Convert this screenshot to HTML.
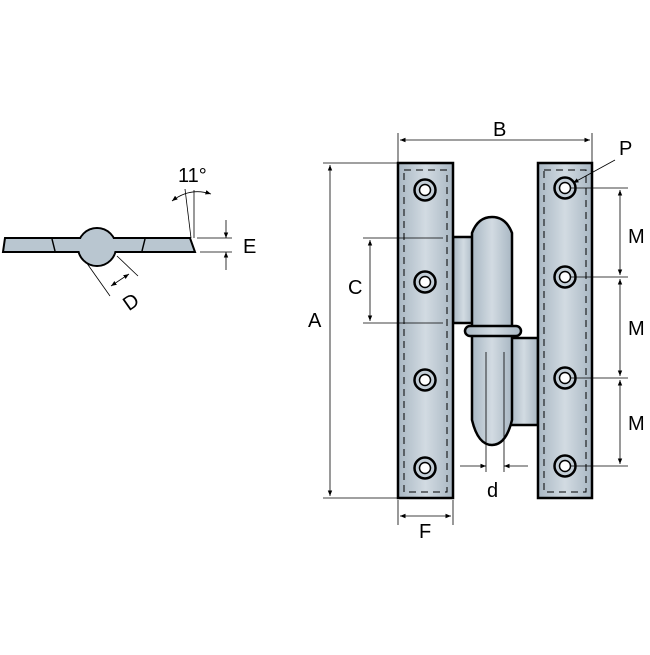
<!DOCTYPE html>
<html><head><style>body{margin:0;background:#fff}</style></head><body>
<svg width="650" height="650" viewBox="0 0 650 650" xmlns="http://www.w3.org/2000/svg" font-family="Liberation Sans, sans-serif">
<defs>
<linearGradient id="g" x1="0" x2="1" y1="0" y2="0">
<stop offset="0" stop-color="#a9b7c3"/><stop offset="0.5" stop-color="#d2dbe2"/><stop offset="1" stop-color="#a9b7c3"/>
</linearGradient>
<marker id="a" viewBox="0 0 10 10" refX="10" refY="5" markerWidth="7" markerHeight="7" orient="auto-start-reverse"><path d="M0,1 L10,5 L0,9 z" fill="#000"/></marker>
</defs>
<!-- side view -->
<g stroke="#000" stroke-width="2" fill="#b9c6d0">
<path d="M5,238 L190,238 L195,252 L3,252 Z"/>
<circle cx="97" cy="247" r="19"/>
</g>
<rect x="62" y="239" width="66" height="12" fill="#b9c6d0"/>
<circle cx="97" cy="247" r="18" fill="#b9c6d0"/>
<g stroke="#000" stroke-width="1.5" fill="none">
<line x1="52" y1="239" x2="55" y2="251"/><line x1="145" y1="239" x2="142" y2="251"/>
<path d="M5,238 L79,238"/><path d="M115,238 L190,238"/><path d="M3,252 L68,252"/><path d="M126,252 L195,252"/>
</g>
<g stroke="#000" stroke-width="0.8" fill="none">
<line x1="185" y1="189" x2="191" y2="238"/><line x1="194" y1="190" x2="194" y2="238"/>
<path d="M172,201 Q190,187 211,194" marker-start="url(#a)" marker-end="url(#a)"/>
<line x1="197" y1="238" x2="232" y2="238"/><line x1="200" y1="252" x2="232" y2="252"/>
<line x1="226" y1="220" x2="226" y2="238" marker-end="url(#a)"/><line x1="226" y1="270" x2="226" y2="252" marker-end="url(#a)"/>
<line x1="86" y1="262" x2="110" y2="296"/><line x1="117" y1="256" x2="138" y2="276"/>
<line x1="111" y1="286" x2="129" y2="274" marker-start="url(#a)" marker-end="url(#a)"/>
</g>
<text x="178" y="182" font-size="20">11°</text>
<text x="243" y="253" font-size="20">E</text>
<text x="124" y="308" font-size="20" transform="rotate(-35 132 302)">D</text>
<!-- hinge -->
<g stroke="#000" stroke-width="2.5" fill="url(#g)">
<path d="M453,237 L474,237 L474,323 L453,323 Z"/>
<path d="M510,338 L538,338 L538,425 L510,425 Z"/>
<rect x="398" y="163" width="55" height="335"/>
<rect x="538" y="163" width="54" height="335"/>
<path d="M472,335 L472,420 Q478,445 492,445 Q506,445 512,420 L512,335 Z"/>
<path d="M472,330 L472,233 Q478,217 492,217 Q506,217 512,233 L512,330 Z"/>
<rect x="465" y="326" width="56" height="10" rx="5"/>
</g>
<g stroke="#000" stroke-width="1" stroke-dasharray="7,5" fill="none">
<rect x="404" y="170" width="43" height="322"/>
<rect x="544" y="170" width="42" height="322"/>
</g>
<g stroke="#000" stroke-width="2.5" fill="#c3ced7">
<circle cx="425" cy="190" r="10.5"/><circle cx="425" cy="282" r="10.5"/><circle cx="425" cy="380" r="10.5"/><circle cx="425" cy="468" r="10.5"/>
<circle cx="565" cy="188" r="10.5"/><circle cx="565" cy="277" r="10.5"/><circle cx="565" cy="378" r="10.5"/><circle cx="565" cy="466" r="10.5"/>
</g>
<g fill="#fff" stroke="#000" stroke-width="1.5">
<circle cx="425" cy="190" r="5.5"/><circle cx="425" cy="282" r="5.5"/><circle cx="425" cy="380" r="5.5"/><circle cx="425" cy="468" r="5.5"/>
<circle cx="565" cy="188" r="5.5"/><circle cx="565" cy="277" r="5.5"/><circle cx="565" cy="378" r="5.5"/><circle cx="565" cy="466" r="5.5"/>
</g>
<g stroke="#000" stroke-width="0.8" fill="none">
<line x1="486" y1="352" x2="486" y2="472"/><line x1="504" y1="352" x2="504" y2="472"/>
<line x1="460" y1="466" x2="486" y2="466" marker-end="url(#a)"/><line x1="528" y1="466" x2="504" y2="466" marker-end="url(#a)"/>
<line x1="323" y1="163" x2="398" y2="163"/><line x1="323" y1="498" x2="398" y2="498"/>
<line x1="330" y1="165" x2="330" y2="496" marker-start="url(#a)" marker-end="url(#a)"/>
<line x1="398" y1="133" x2="398" y2="163"/><line x1="592" y1="133" x2="592" y2="163"/>
<line x1="400" y1="140" x2="590" y2="140" marker-start="url(#a)" marker-end="url(#a)"/>
<line x1="363" y1="238" x2="443" y2="238"/><line x1="363" y1="323" x2="443" y2="323"/>
<line x1="370" y1="240" x2="370" y2="321" marker-start="url(#a)" marker-end="url(#a)"/>
<line x1="570" y1="188" x2="628" y2="188"/><line x1="570" y1="277" x2="628" y2="277"/><line x1="570" y1="378" x2="628" y2="378"/><line x1="570" y1="466" x2="628" y2="466"/>
<line x1="620" y1="190" x2="620" y2="275" marker-start="url(#a)" marker-end="url(#a)"/>
<line x1="620" y1="279" x2="620" y2="376" marker-start="url(#a)" marker-end="url(#a)"/>
<line x1="620" y1="380" x2="620" y2="464" marker-start="url(#a)" marker-end="url(#a)"/>
<line x1="398" y1="500" x2="398" y2="525"/><line x1="453" y1="500" x2="453" y2="525"/>
<line x1="400" y1="516" x2="451" y2="516" marker-start="url(#a)" marker-end="url(#a)"/>
<line x1="615" y1="160" x2="573" y2="183" marker-end="url(#a)"/>
</g>
<g font-size="20" fill="#000">
<text x="493" y="136">B</text><text x="619" y="155">P</text>
<text x="308" y="327">A</text><text x="348" y="294">C</text>
<text x="628" y="243">M</text><text x="628" y="335">M</text><text x="628" y="430">M</text>
<text x="487" y="497">d</text><text x="419" y="538">F</text>
</g>
</svg>
</body></html>
